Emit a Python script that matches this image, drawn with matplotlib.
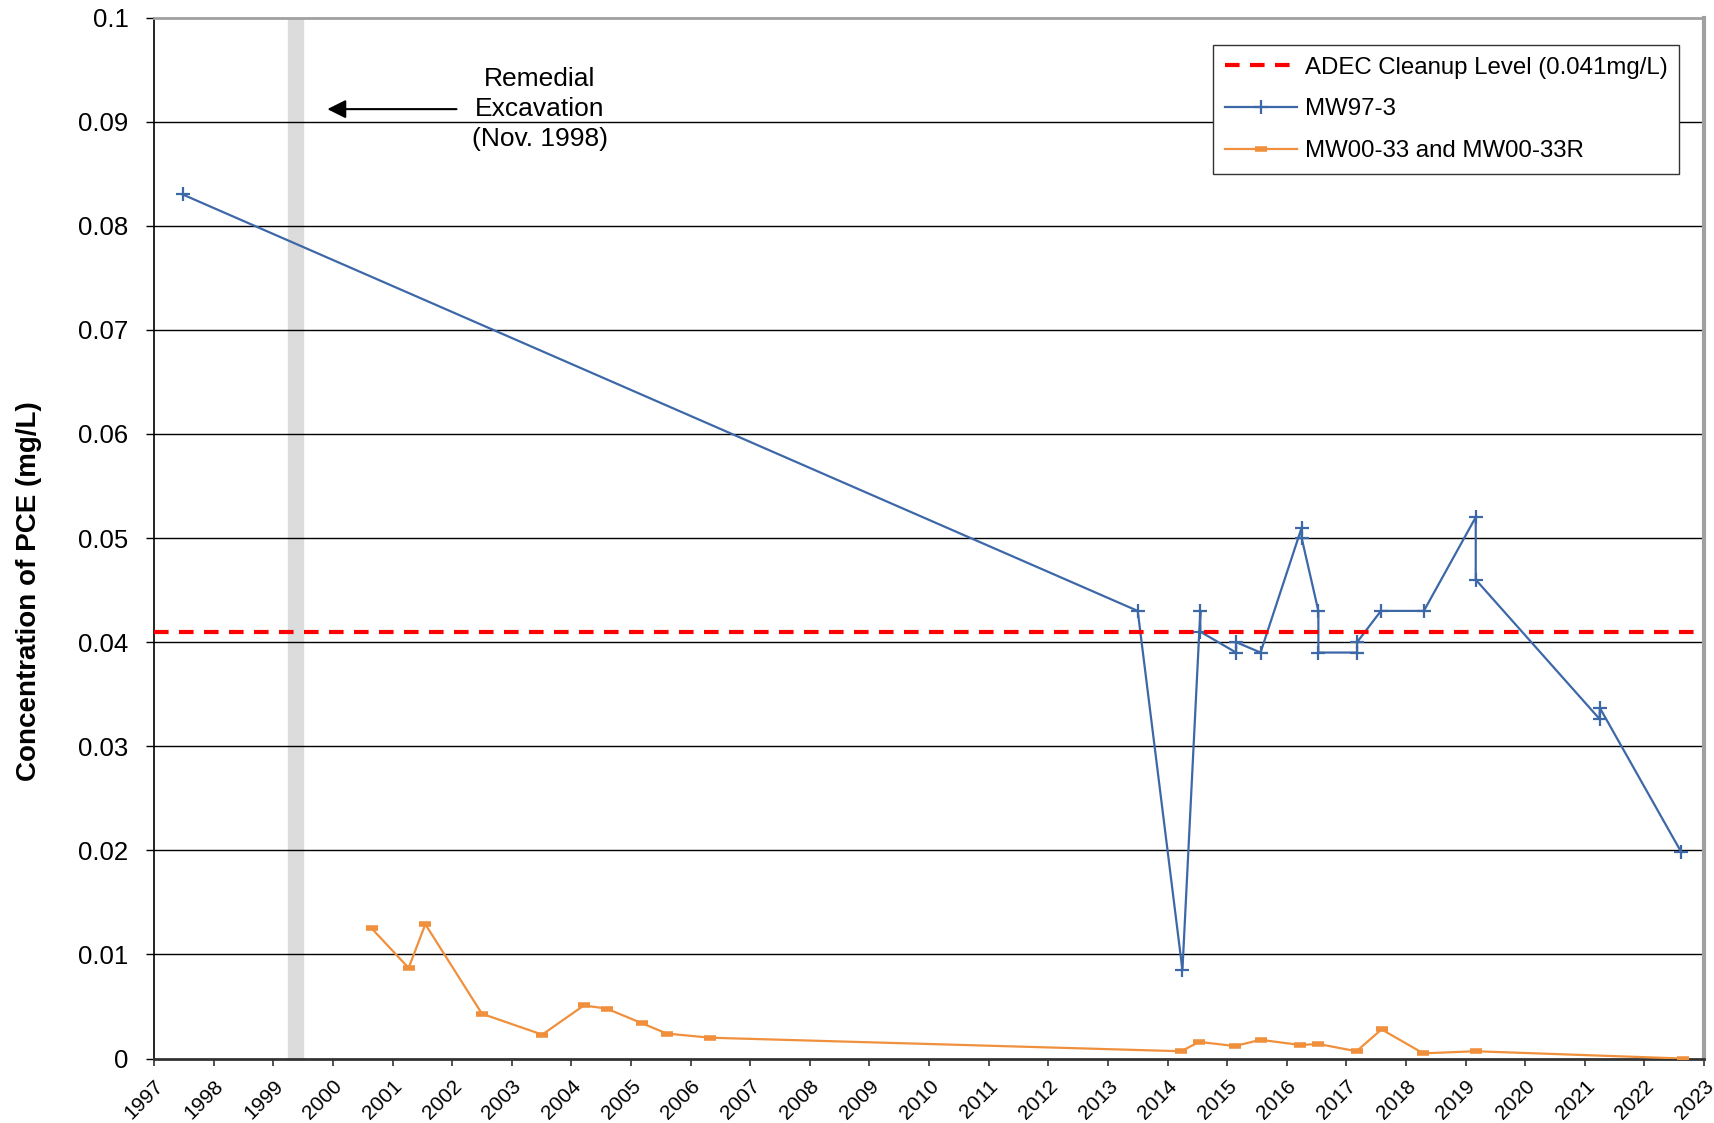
import numpy as np
import matplotlib
matplotlib.use("Agg")
import matplotlib.pyplot as plt

plt.rcParams['font.family'] = ['Liberation Sans', 'DejaVu Sans']

# PCE results, decimal year vs concentration (mg/L)
mw97_year = [1997.48, 2013.50, 2014.25, 2014.55, 2014.55, 2015.15, 2015.15, 2015.56,
             2016.25, 2016.25, 2016.53, 2016.53, 2017.18, 2017.18, 2017.58, 2018.30,
             2019.17, 2019.17, 2021.25, 2021.25, 2022.62]
mw97_pce = [0.083, 0.043, 0.0085, 0.043, 0.041, 0.039, 0.040, 0.039,
            0.051, 0.050, 0.043, 0.039, 0.039, 0.040, 0.043, 0.043,
            0.052, 0.046, 0.0326, 0.0337, 0.0198]

mw00_year = [2000.65, 2001.27, 2001.55, 2002.50, 2003.51, 2004.21, 2004.59, 2005.18,
             2005.60, 2006.33, 2014.23, 2014.53, 2015.13, 2015.56, 2016.23, 2016.53,
             2017.17, 2017.59, 2018.29, 2019.17, 2022.65]
mw00_pce = [0.0125, 0.0087, 0.0129, 0.0043, 0.0023, 0.0051, 0.0048, 0.0034,
            0.0024, 0.0020, 0.0007, 0.0016, 0.0012, 0.0018, 0.0013, 0.0014,
            0.0007, 0.0028, 0.0005, 0.0007, 0.0]

cleanup_level = 0.041
excavation_band = (1999.24, 1999.49)

year_ticks = list(range(1997, 2024))
conc_ticks = [0, 0.01, 0.02, 0.03, 0.04, 0.05, 0.06, 0.07, 0.08, 0.09, 0.1]
conc_labels = ['0', '0.01', '0.02', '0.03', '0.04', '0.05', '0.06', '0.07', '0.08', '0.09', '0.1']

fig = plt.figure(figsize=(17.14, 11.23), dpi=100)
ax = fig.add_axes([0.0899, 0.0574, 0.9043, 0.927])

ax.set_xlim(1997, 2023)
ax.set_ylim(0, 0.1)

# excavation marker
ax.axvspan(excavation_band[0], excavation_band[1], color='#dcdcdc', zorder=1)

for y in conc_ticks[1:-1]:
    ax.axhline(y, color='black', lw=1.0, zorder=2)

ax.axhline(cleanup_level, color='#ff0000', lw=3.0, ls=(0, (3.5, 2.5)), zorder=5,
           label='ADEC Cleanup Level (0.041mg/L)')
ax.plot(mw97_year, mw97_pce, color='#3d68a8', lw=1.6, marker='+', ms=10, mew=1.6,
        zorder=4, label='MW97-3')
ax.plot(mw00_year, mw00_pce, color='#f0903c', lw=1.6, marker='_', ms=9, mew=4,
        zorder=4, label='MW00-33 and MW00-33R')

ax.annotate('', xy=(1999.86, 0.0912), xytext=(2002.12, 0.0912),
            arrowprops=dict(arrowstyle='-|>', color='black', lw=1.5, mutation_scale=28),
            zorder=6)
ax.text(2003.47, 0.0912, 'Remedial\nExcavation\n(Nov. 1998)', ha='center', va='center',
        fontsize=19, linespacing=1.3, zorder=6)

ax.set_xticks(year_ticks)
ax.set_xticklabels([str(y) for y in year_ticks], rotation=45, ha='right',
                   rotation_mode='anchor', fontsize=15)
ax.set_yticks(conc_ticks)
ax.set_yticklabels(conc_labels, fontsize=18.5)
ax.tick_params(axis='x', direction='out', length=5, width=1.2, color='#333333', pad=8)
ax.tick_params(axis='y', direction='out', length=5.5, width=1.0, pad=13)

ax.set_ylabel('Concentration of PCE (mg/L)', fontsize=20, fontweight='bold')
ax.yaxis.set_label_coords(-0.072, 0.449)

ax.spines['left'].set_color('black')
ax.spines['left'].set_linewidth(1.2)
ax.spines['bottom'].set_color('#333333')
ax.spines['bottom'].set_linewidth(2)
ax.spines['top'].set_color('#a0a0a0')
ax.spines['top'].set_linewidth(2)
ax.spines['right'].set_color('#a0a0a0')
ax.spines['right'].set_linewidth(3)

leg = ax.legend(loc='upper right', bbox_to_anchor=(0.984, 0.974), fontsize=17.25,
                fancybox=False, edgecolor='#333333', framealpha=1, handlelength=3.0,
                borderpad=0.5, labelspacing=0.83, handletextpad=0.3, borderaxespad=0)
leg.get_frame().set_linewidth(1.0)

fig.savefig('out.png', dpi=100)
